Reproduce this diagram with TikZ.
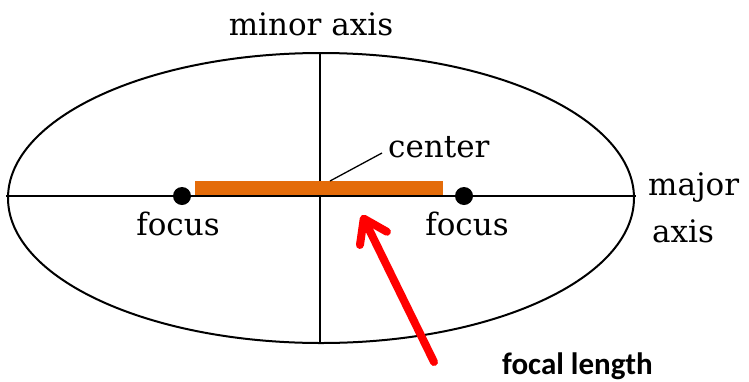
\documentclass[tikz,border=0pt]{standalone}
\usepackage{fontspec}
\setmainfont{DejaVu Serif}
\newfontfamily\labelsans{Carlito}
\usetikzlibrary{arrows.meta, positioning, calc}
\definecolor{focalorange}{HTML}{E46C0A}

\begin{document}
\begin{tikzpicture}[
  x=1pt, y=-1pt,
  axisline/.style={draw=black, line width=2.8pt},
  rim/.style={draw=black, line width=2pt},
  focusdot/.style={circle, fill=black, inner sep=0pt, minimum size=18pt},
  lbl/.style={font=\fontsize{31}{47}\selectfont, inner sep=0pt},
  leader/.style={draw=black, line width=1.3pt},
  focalarrow/.style={draw=red, line width=8pt, line cap=round,
                     -{Straight Barb[length=22pt, width=30pt, round]}},
]
\useasboundingbox (0,0) rectangle (749,381);

%% Ellipse and its axes
\coordinate (C) at (321,198);
\draw[rim] (C) ellipse [x radius=313pt, y radius=145pt];
\coordinate (majL) at (6,196);
\coordinate (majR) at (636,196);
\coordinate (minT) at (320,53);
\coordinate (minB) at (320,343);
\draw[axisline] (majL) -- (majR);
\draw[axisline] (minT) -- (minB);

%% Focal length bar and foci
\coordinate (barL) at (195,181);
\coordinate (barR) at (443,195);
\fill[focalorange] (barL) rectangle (barR);
\node[focusdot] (F1) at (182,196) {};
\node[focusdot] (F2) at (464,196) {};

%% Labels
\node[lbl, anchor=base] (minlbl) at (311,35) {minor axis};
\node[lbl, anchor=base] (foc1) at (178,235) {focus};
\node[lbl, anchor=base] (foc2) at (467,235) {focus};
\node[lbl, anchor=base west, align=left] (majlbl) at (648,242) {major\\[0pt]\hspace*{4pt}axis};
\node[lbl, anchor=base west] (cntlbl) at (388,157) {center};
\node[font=\labelsans\bfseries\fontsize{31}{36}\selectfont, inner sep=0pt,
      anchor=base west] (fl) at (502,374) {focal length};

%% Centre leader
\coordinate (leadA) at (382,153);
\coordinate (leadB) at (330,181);
\draw[leader] (leadA) -- (leadB);

%% Red arrow pointing at the bar
\coordinate (tail) at (434,362);
\coordinate (tip) at (362,215);
\draw[focalarrow] (tail) -- (tip);
\end{tikzpicture}
\end{document}
